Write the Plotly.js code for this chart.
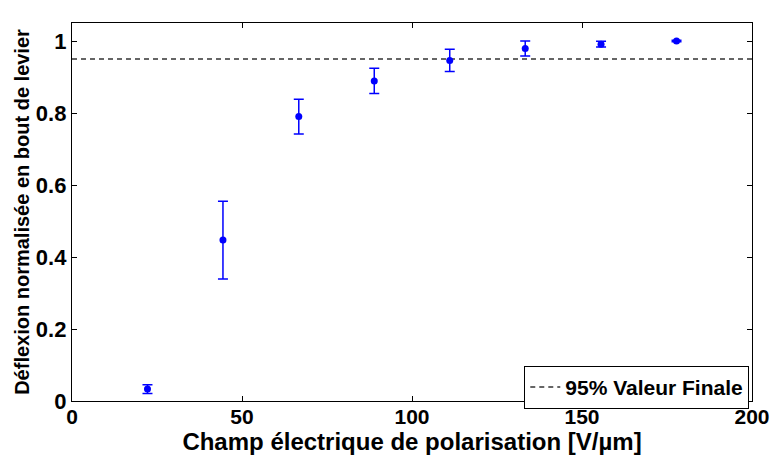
<!DOCTYPE html>
<html>
<head>
<meta charset="utf-8">
<script src="https://cdn.plot.ly/plotly-3.0.1.min.js"></script>
<style>html,body{margin:0;padding:0;background:#fff;}#chart{width:774px;height:457px;}</style>
</head>
<body>
<div id="chart"></div>
<script>
// Data
const champ = [22.2, 44.4, 66.7, 88.9, 111.1, 133.3, 155.6, 177.8];
const deflexion = [0.033, 0.447, 0.790, 0.889, 0.946, 0.979, 0.991, 1.000];
const erreur = [0.012, 0.108, 0.048, 0.035, 0.031, 0.021, 0.008, 0.002];
const seuilX = [0, 200];
const seuilY = [0.95, 0.95];
const legendeSeuil = "95% Valeur Finale";
const xTicks = [0, 50, 100, 150, 200];
const yTicks = [0, 0.2, 0.4, 0.6, 0.8, 1];
const yTickText = ["0", "0.2", "0.4", "0.6", "0.8", "1"];

const fontFam = "Liberation Sans, Arial, sans-serif";

const traces = [
  {
    x: seuilX, y: seuilY, mode: "lines", name: legendeSeuil,
    line: {color: "#333333", width: 1.5, dash: "5px,4px"},
    showlegend: true, hoverinfo: "skip"
  },
  {
    x: champ, y: deflexion, mode: "markers", showlegend: false,
    marker: {color: "#0000ff", size: 7},
    error_y: {type: "data", array: erreur, visible: true, color: "#0000ff", thickness: 1.5, width: 5}
  }
];

const layout = {
  width: 774, height: 457,
  margin: {l: 72, r: 22, t: 23, b: 56},
  paper_bgcolor: "#ffffff", plot_bgcolor: "#ffffff",
  font: {family: fontFam, size: 18, color: "#000"},
  showlegend: true,
  legend: {
    x: 0.996, y: -0.021, xanchor: "right", yanchor: "bottom",
    bordercolor: "#000", borderwidth: 1, bgcolor: "#fff",
    font: {family: fontFam, size: 21, color: "#000", weight: "bold"},
    itemwidth: 30, tracegroupgap: 0
  },
  xaxis: {
    range: [0, 200], tickvals: xTicks, ticktext: xTicks.map(String),
    ticks: "inside", ticklen: 5, tickwidth: 1, tickcolor: "#000",
    showline: true, linecolor: "#000", linewidth: 1.2, mirror: "ticks",
    showgrid: false, zeroline: false, ticklabelstandoff: -3,
    tickfont: {family: fontFam, size: 21, color: "#000", weight: "bold"},
    title: {text: "Champ électrique de polarisation [V/µm]", standoff: 0,
            font: {family: fontFam, size: 24, color: "#000", weight: "bold"}}
  },
  yaxis: {
    range: [0, 1.05], tickvals: yTicks, ticktext: yTickText,
    ticks: "inside", ticklen: 5, tickwidth: 1, tickcolor: "#000",
    showline: true, linecolor: "#000", linewidth: 1.2, mirror: "ticks",
    showgrid: false, zeroline: false,
    tickfont: {family: fontFam, size: 22, color: "#000", weight: "bold"},
    title: {text: "Déflexion normalisée en bout de levier", standoff: 0,
            font: {family: fontFam, size: 20, color: "#000", weight: "bold"}}
  }
};

Plotly.newPlot("chart", traces, layout, {displayModeBar: false, staticPlot: true});
</script>
</body>
</html>
